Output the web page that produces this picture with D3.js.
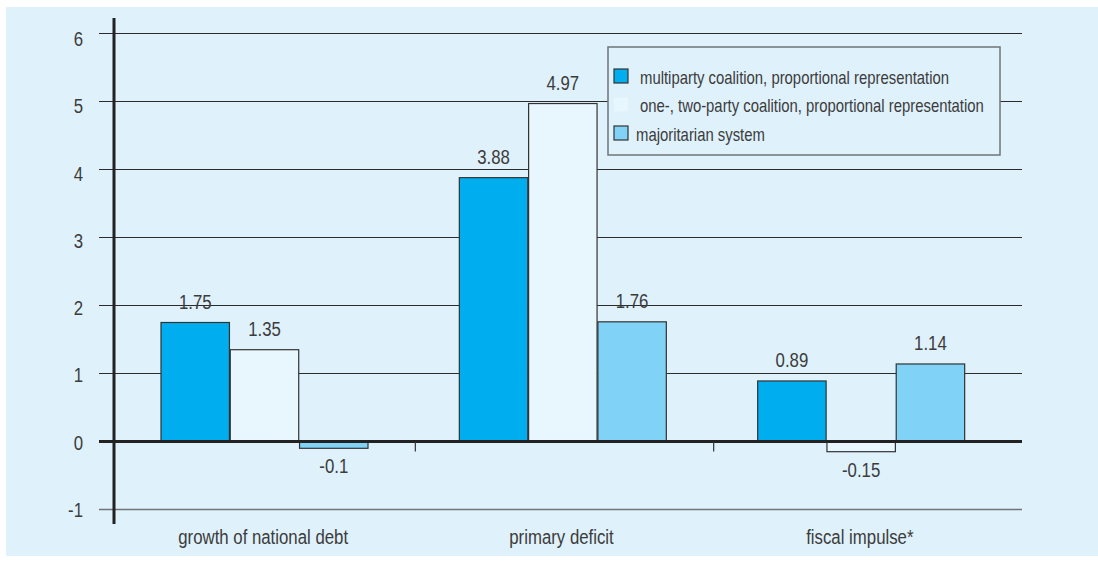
<!DOCTYPE html>
<html>
<head>
<meta charset="utf-8">
<script src="https://cdn.jsdelivr.net/npm/d3@7"></script>
<style>
	body { margin: 0; background: #ffffff; }
	text { font-family: "Liberation Sans", Arial, sans-serif; fill: #3c3c3c; }
</style>
</head>
<body>
<svg id="chart"></svg>
<script>
const WIDTH = 1098;
const HEIGHT = 566;
const NARROW = 0.8;

const categories = ['growth of national debt', 'primary deficit', 'fiscal impulse*'];
const seriesNames = [
	'multiparty coalition, proportional representation',
	'one-, two-party coalition, proportional representation',
	'majoritarian system'
];
const multiparty = [1.75, 3.88, 0.89];
const twoParty = [1.35, 4.97, -0.15];
const majoritarian = [-0.1, 1.76, 1.14];
const yTicks = [-1, 0, 1, 2, 3, 4, 5, 6];

const colors = ['#00aeef', '#e8f6fd', '#80d3f6'];
const seriesValues = [multiparty, twoParty, majoritarian];

const svg = d3.select('#chart')
	.attr('width', WIDTH)
	.attr('height', HEIGHT);

// condensed look: squeeze a normal sans horizontally
const label = (parent, x, y, txt, anchor, size) => parent.append('g')
	.attr('transform', `translate(${x},${y}) scale(${NARROW},1)`)
	.append('text')
	.attr('text-anchor', anchor)
	.attr('font-size', size)
	.text(txt);

// light blue panel
svg.append('rect')
	.attr('x', 6)
	.attr('y', 7)
	.attr('width', WIDTH - 6)
	.attr('height', 549)
	.attr('fill', '#dff1fb');

const x0 = d3.scaleBand()
	.domain(categories)
	.range([117, 1012]);

const x1 = d3.scaleBand()
	.domain(d3.range(seriesNames.length))
	.range([44, 251])
	.paddingInner(0.012);

const y = d3.scaleLinear()
	.domain([-1, 6])
	.range([509.5, 33.5]);

// tick labels sit a little lower than their gridlines
const yLabel = d3.scaleLinear()
	.domain([-1, 6])
	.range([517, 46]);

// gridlines
svg.append('g')
	.selectAll('line')
	.data(yTicks.filter(d => d !== 0))
	.enter()
	.append('line')
	.attr('x1', 99)
	.attr('x2', 1022)
	.attr('y1', d => y(d))
	.attr('y2', d => y(d))
	.attr('stroke', d => d === -1 ? '#6e7478' : '#2b2b2b')
	.attr('stroke-width', d => d === -1 ? 1.5 : 1.1);

const yAxisLabels = svg.append('g');
yTicks.forEach(d => label(yAxisLabels, 83, yLabel(d), d, 'end', 21));

// bars
const groups = svg.append('g')
	.selectAll('g')
	.data(categories)
	.enter()
	.append('g')
	.attr('transform', d => `translate(${x0(d)},0)`);

const barData = (c, ci) => seriesValues.map((vals, si) => ({ si, value: vals[ci] }));

groups.selectAll('rect')
	.data(barData)
	.enter()
	.append('rect')
	.attr('x', d => x1(d.si))
	.attr('width', x1.bandwidth())
	.attr('y', d => y(Math.max(0, d.value)))
	.attr('height', d => Math.abs(y(d.value) - y(0)))
	.attr('fill', d => colors[d.si])
	.attr('stroke', '#333')
	.attr('stroke-width', 1.2);

groups.each(function(c, ci) {
	const g = d3.select(this);
	barData(c, ci).forEach(d => {
		const ly = d.value >= 0 ? y(d.value) - 14 : y(d.value) + 25;
		label(g, x1(d.si) + x1.bandwidth() / 2, ly, d.value, 'middle', 21);
	});
});

// zero line
svg.append('line')
	.attr('x1', 99)
	.attr('x2', 1022)
	.attr('y1', y(0))
	.attr('y2', y(0))
	.attr('stroke', '#222')
	.attr('stroke-width', 3);

// category separators below zero line
svg.append('g')
	.selectAll('line')
	.data(categories.slice(1))
	.enter()
	.append('line')
	.attr('x1', d => x0(d))
	.attr('x2', d => x0(d))
	.attr('y1', y(0))
	.attr('y2', y(0) + 10)
	.attr('stroke', '#333')
	.attr('stroke-width', 1.2);

// y axis line
svg.append('line')
	.attr('x1', 114)
	.attr('x2', 114)
	.attr('y1', 18)
	.attr('y2', 524)
	.attr('stroke', '#222')
	.attr('stroke-width', 3);

// category labels
const catLabels = svg.append('g');
categories.forEach(d => label(catLabels, x0(d) + x0.bandwidth() / 2 - 3, 544, d, 'middle', 21));

// legend
const legend = svg.append('g').attr('transform', 'translate(608,47)');
legend.append('rect')
	.attr('width', 392)
	.attr('height', 108)
	.attr('fill', '#dff1fb')
	.attr('stroke', '#6e7478')
	.attr('stroke-width', 1.5);

const items = legend.selectAll('g')
	.data(seriesNames)
	.enter()
	.append('g')
	.attr('transform', (d, i) => `translate(6,${22 + i * 28.5})`);

items.append('rect')
	.attr('width', 14)
	.attr('height', 14)
	.attr('fill', (d, i) => colors[i])
	.attr('stroke', (d, i) => i === 1 ? 'none' : '#333')
	.attr('stroke-width', 1.2);

items.each(function(d, i) {
	label(d3.select(this), i === 2 ? 22 : 26, 14.5, d, 'start', 18.6);
});
</script>
</body>
</html>
